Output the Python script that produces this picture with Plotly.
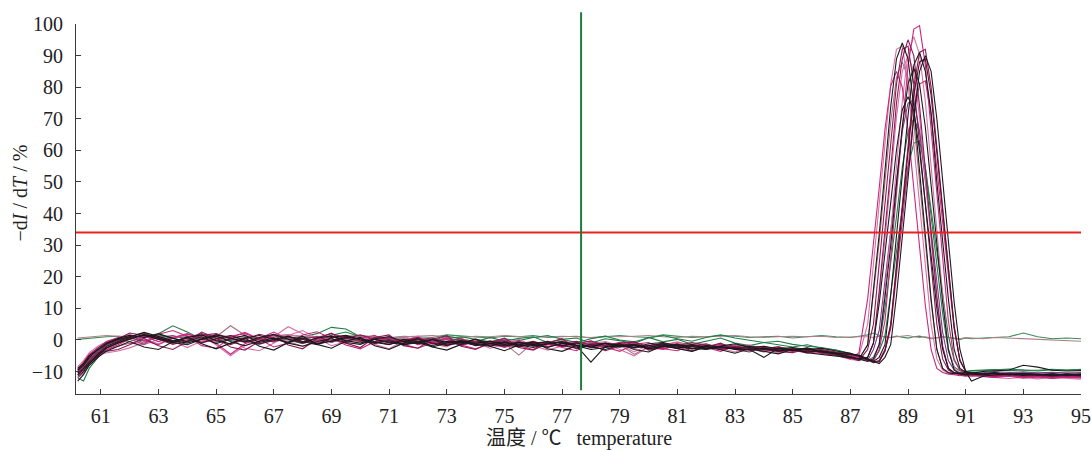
import plotly.graph_objects as go

# ---------------- data ----------------
T_LOW = [60.2, 60.4, 60.6, 60.9, 61.2, 61.6, 62.0, 62.5, 63.0, 63.5,
         64.0, 64.5, 65.0, 65.5, 66.0, 66.5, 67.0, 67.5, 68.0, 68.5,
         69.0, 69.5, 70.0, 70.5, 71.0, 71.5, 72.0, 72.5, 73.0, 73.5,
         74.0, 74.5, 75.0, 75.5, 76.0, 76.5, 77.0, 77.5, 78.0, 78.5,
         79.0, 79.5, 80.0, 80.5, 81.0, 81.5, 82.0, 82.5, 83.0, 83.5,
         84.0, 84.5, 85.0, 85.5, 86.0, 86.5, 87.0, 87.3]
T_MELT = [87.6, 87.8, 88.0, 88.2, 88.4, 88.6, 88.8, 89.0, 89.2, 89.4,
          89.6, 89.8, 90.0, 90.2, 90.4, 90.6, 90.8, 91.0, 91.2]
T_TAIL = [91.6, 92.0, 92.5, 93.0, 93.5, 94.0, 94.5, 95.0]

X_TICKS = [61, 63, 65, 67, 69, 71, 73, 75, 77, 79, 81, 83, 85, 87, 89, 91, 93, 95]
Y_TICKS = [-10, 0, 10, 20, 30, 40, 50, 60, 70, 80, 90, 100]
THRESHOLD = 34
CURSOR_T = 77.66

# --- curve A (black) ---
a_low = [-9.5, -8, -5.5, -3, -1, 0.5, 1.5, 0.8, 2.0, 0.5,
         -0.5, 1.0, -1.2, 0.3, 1.5, -0.8, 0.2, 1.2, -0.5, -1.5,
         0.8, 1.5, 0.0, -0.8, -1.5, 0.2, -0.6, -1.8, -0.4, -1.0,
         0.3, -1.2, -2.0, -0.8, -1.4, -0.5, -1.8, -0.9, -2.2, -1.0,
         -1.6, -2.4, -1.2, -0.8, -2.0, -1.5, -2.6, -1.8, -1.2, -2.3,
         -2.0, -2.8, -2.4, -3.0, -2.6, -3.5, -4.2, -5.0]
a_melt = [-6.0, -6.8, -5.5, -1.5, 14, 33, 52, 71, 87, 91,
          85, 72, 50, 31, 13, -3, -9, -10.2, -10.5]
a_tail = [-10.8, -10.4, -11.0, -10.6, -10.9, -11.2, -10.7, -11.0]

# --- curve B (dark magenta) ---
b_low = [-11, -9, -6.5, -4, -1.5, 0, 1.0, 2.2, 0.5, -1.0,
         0.8, 2.0, 0.5, -1.5, 0.2, 1.8, 0.6, -0.8, 0.4, 1.0,
         -0.6, 0.5, 1.6, 0.2, -1.0, -0.2, 0.8, -1.2, -0.5, 0.4,
         -1.5, -0.8, -0.2, -1.6, -0.6, -1.2, -2.0, -1.1, -0.3, -1.8,
         -1.0, -0.6, -2.2, -1.4, -1.8, -0.8, -1.6, -2.4, -1.5, -2.0,
         -2.8, -2.2, -3.2, -2.5, -3.4, -4.0, -5.2, -6.5]
b_melt = [-5.5, -1, 15.5, 34, 54, 75, 89, 95, 90, 74,
          54, 33, 14, -2, -9, -10.5, -10.8, -11, -10.6]
b_tail = [-10.9, -11.3, -10.8, -11.2, -11.0, -11.4, -11.1, -11.3]

# --- curve C (magenta) ---
c_low = [-10, -8.5, -6.8, -4.5, -2.5, -1.0, 0.5, 1.2, -0.5, 0.8,
         2.0, 0.4, -1.0, -4.5, -1.2, 0.5, 2.5, 0.2, -1.0, -0.2,
         1.2, -0.4, 0.6, 1.5, -0.8, 0.3, -1.5, -0.6, 0.2, -1.8,
         -0.5, -1.0, -2.4, -1.2, -0.4, -2.0, -1.4, -0.8, -2.5, -1.6,
         -0.8, -1.8, -2.6, -1.0, -1.5, -2.8, -2.0, -1.4, -2.6, -3.0,
         -2.2, -3.0, -2.6, -3.6, -3.0, -4.2, -4.8, -5.5]
c_melt = [-6.5, -6.5, -3, 6, 26, 46, 67.5, 86.7, 98.4, 99.5,
          87, 67, 46, 26, 6, -6, -9.5, -10.5, -11]
c_tail = [-11.5, -11.8, -11.4, -11.9, -11.6, -12.0, -11.7, -11.9]

# --- curve D (pink) ---
d_low = [-8.5, -6.5, -4.0, -2.0, -0.5, 0.5, 1.8, 0.4, -1.2, 0.6,
         1.5, -0.5, 0.8, 1.0, 1.0, -0.6, 1.4, 1.6, 1.2, -0.4,
         0.5, -1.2, 0.8, 0.2, -0.6, 1.0, -0.2, -1.4, 0.4, -0.8,
         -1.6, -0.2, -1.0, -2.2, -0.8, -1.5, -0.6, -2.6, -1.2, -0.5,
         -1.8, -1.0, -2.8, -1.6, -0.8, -2.2, -1.5, -2.0, -2.8, -2.2,
         -3.0, -2.4, -3.4, -3.0, -3.8, -4.6, -6.0, -5.0]
d_melt = [5, 24, 43, 63, 81, 92, 93, 81, 63, 43,
          24, 5, -6, -9.5, -10.5, -10.8, -11, -10.7, -11.2]
d_tail = [-11.0, -11.5, -11.2, -11.6, -11.3, -11.8, -11.5, -11.7]

# --- curve E (black) ---
e_low = [-10.5, -9, -7, -4.5, -2, -0.5, 0.8, 1.5, 0.2, -0.8,
         -1.5, 0.2, 1.2, -0.5, -1.8, -0.4, 0.6, -1.0, -2.0, -0.5,
         0.4, -0.8, -1.4, 0.2, -0.6, -1.6, -0.8, -2.2, -1.0, -0.4,
         -1.8, -1.2, -0.6, -2.0, -1.4, -2.4, -1.0, -1.8, -7.0, -2.0,
         -2.2, -1.6, -2.8, -2.0, -1.4, -2.6, -3.0, -2.2, -2.8, -3.2,
         -2.6, -3.4, -3.0, -3.8, -3.4, -4.4, -5.2, -6.0]
e_melt = [-5.5, -1, 11.5, 26.6, 43.4, 60.2, 72.8, 77, 72.5, 60,
          43, 26, 10, -3, -9, -10.3, -10.6, -10.2, -10.5]
e_tail = [-10.0, -9.8, -9.5, -8.0, -8.6, -9.6, -9.8, -9.7]

# --- curve F (green) ---
f_low = [-12, -13, -9, -5.5, -2.5, 0, 1.0, -1.0, 2.0, 4.5,
         2.5, 0.2, -0.8, 0.6, 1.2, -0.4, 0.8, 0.0, -1.2, 0.4,
         1.5, 2.5, 1.0, -0.5, 0.6, -0.8, 0.5, -0.2, 1.2, 0.4,
         -0.6, 0.8, -0.4, 0.5, 1.0, -0.8, 0.2, 0.6, -1.0, 0.4,
         -0.2, -1.2, 0.8, -0.6, 0.2, -1.4, -0.4, 0.6, -1.0, -1.8,
         -0.8, -1.4, -2.2, -1.5, -2.6, -3.2, -4.5, -6.0]
f_melt = [-6.5, -5.5, -1.5, 10, 24, 39, 54.6, 66, 70, 66,
          54.6, 39, 24, 8.5, -3.5, -8.5, -9.8, -10.0, -9.7]
f_tail = [-9.6, -9.4, -9.7, -9.5, -9.8, -9.4, -9.6, -9.3]

# --- curve G (dark magenta) ---
g_low = [-9, -7.5, -5, -2.5, -0.8, 0.4, 2.2, 1.4, 0.2, -1.4,
         -0.2, 1.5, 2.0, 0.4, -0.8, 0.5, 1.6, 0.4, -1.0, 0.8,
         2.0, 0.6, -0.5, 0.8, 0.2, -1.2, 0.0, 0.6, -0.8, -1.6,
         -0.4, -1.0, -1.8, -0.6, -1.2, -2.2, -1.0, -0.4, -1.6, -2.0,
         -1.2, -2.6, -1.8, -1.0, -2.4, -1.8, -1.2, -2.6, -2.0, -2.8,
         -2.4, -3.2, -2.8, -3.6, -3.0, -3.8, -4.4, -5.0]
g_melt = [-6.2, -7, -6.5, -3, 5, 23.7, 42.5, 62.3, 80, 91,
          92, 80, 62, 42, 23, 4, -6.5, -9.8, -10.6]
g_tail = [-10.9, -11.1, -10.7, -11.0, -10.8, -11.2, -10.9, -11.1]

# --- curve H (rosy) ---
h_low = [-10, -8, -6, -4.5, -3.0, -2.0, -1.0, -1.5, 0.2, -1.2,
         0.5, -0.8, 1.0, 4.5, 1.5, -0.2, 0.6, -0.5, -2.0, -0.8,
         1.0, 0.2, -0.6, -1.2, 0.4, 0.8, -0.4, -1.0, 0.6, -0.2,
         -1.2, -0.6, -1.0, -4.8, -0.8, -1.4, -0.2, -1.6, -1.0, -2.0,
         -1.5, -4.5, -2.2, -1.6, -0.6, -1.8, -2.6, -1.4, -2.0, -1.6,
         -2.8, -2.2, -3.0, -2.6, -3.6, -4.4, -5.2, -6.0]
h_melt = [-1.5, 14, 31, 50, 69, 83, 88, 83, 69, 50,
          31, 12, -3, -9, -10.2, -10.5, -10.3, -10.6, -10.4]
h_tail = [-10.5, -10.2, -10.6, -10.4, -10.7, -10.3, -10.5, -10.6]

# --- curve I (purple) ---
i_low = [-10, -8, -5.5, -3.5, -1.5, -0.2, 0.6, -0.4, 0.8, 1.4,
         0.2, -1.0, 0.4, 1.2, -0.2, -1.4, 0.2, 0.8, -0.6, 0.4,
         -0.8, 0.6, 0.0, -1.0, 0.6, -0.4, -1.2, -0.2, 0.4, -1.4,
         -0.8, -1.6, -0.6, -1.2, -2.0, -1.0, -1.6, -2.4, -1.2, -1.8,
         -1.0, -2.2, -1.6, -2.8, -1.4, -2.0, -2.8, -1.8, -2.4, -3.0,
         -2.4, -3.2, -2.6, -3.4, -3.2, -4.0, -5.0, -6.0]
i_melt = [-6.5, -3, 3, 18.7, 34.5, 51, 66, 75, 76, 66,
          51, 34.5, 18.5, 2.5, -6.5, -9.5, -10.4, -10.6, -10.3]
i_tail = [-10.4, -10.0, -10.3, -10.1, -10.4, -10.2, -10.5, -10.3]

# --- curve J (black) ---
j_low = [-11.5, -10, -7.5, -5, -2.5, -0.8, 0.2, 1.8, 0.6, -0.6,
         0.8, 1.6, -0.2, -1.2, 0.6, 1.4, 0.2, -0.8, 0.6, -1.2,
         -0.4, 0.8, 0.4, -1.0, -0.2, -1.4, -0.6, 0.2, -1.6, -0.8,
         -1.4, -2.0, -0.8, -1.6, -2.4, -1.2, -0.6, -1.8, -2.2, -3.0,
         -1.6, -2.4, -1.8, -1.2, -2.6, -2.0, -2.8, -2.2, -3.0, -3.0,
         -5.5, -2.6, -3.2, -2.8, -3.6, -4.2, -4.6, -4.8]
j_melt = [-6, -6.8, -7.5, -5.5, -1.5, 14, 32, 51, 70.6, 85,
          90, 85, 70, 51, 31, 12, -3, -10, -13]
j_tail = [-11.5, -11.0, -10.8, -11.2, -10.9, -11.3, -11.0, -11.2]

# --- curve K (magenta) ---
k_low = [-9.5, -7, -4.5, -2.5, -0.5, 0.8, 1.2, -0.2, -1.5, 0.6,
         1.8, 0.6, -0.4, 1.2, 2.0, 0.4, -0.6, 1.0, 0.2, -1.0,
         0.6, 1.4, -0.2, -1.2, 0.2, -0.6, 0.8, -0.8, -1.4, 0.0,
         -0.6, -1.8, -1.0, -0.4, -2.0, -1.2, -2.2, -0.8, -1.6, -2.4,
         -1.8, -1.2, -2.4, -3.0, -1.6, -2.2, -1.8, -2.8, -2.2, -2.6,
         -3.2, -2.6, -3.6, -3.2, -4.0, -4.8, -6.0, -4.0]
k_melt = [13, 30, 48, 66.6, 80.4, 85, 80, 66.6, 48, 30,
          11, -3, -9, -10.3, -10.8, -11.0, -11.3, -11.0, -11.4]
k_tail = [-11.2, -11.6, -11.3, -11.7, -11.5, -11.8, -11.4, -11.6]

# --- curve L (green) ---
l_low = [-10, -8.5, -6, -3.5, -1.5, 0.2, -0.5, 0.8, 1.6, 0.4,
         -0.6, 0.6, 1.2, -0.2, 0.8, 0.2, -0.6, 0.6, 1.0, 2.0,
         4.0, 3.5, 1.0, 0.2, -0.4, 0.8, 0.2, -0.6, 0.4, 1.0,
         0.2, -0.6, 0.4, -0.2, 0.8, 1.4, 0.2, -0.8, 0.4, 1.2,
         0.0, -0.6, 0.6, 1.4, 0.4, -0.4, 0.8, 1.6, 0.6, -0.2,
         -0.8, -0.4, -1.4, -2.0, -2.4, -3.2, -4.2, -5.5]
l_melt = [-6.5, -6.5, -3.5, 1.4, 14.7, 28, 42, 54.6, 62.3, 63,
          54.6, 42, 28, 14.7, 1.4, -6.5, -9.5, -10, -9.8]
l_tail = [-9.7, -9.5, -9.2, -9.5, -9.6, -9.3, -9.5, -9.4]

# --- curve M (maroon) ---
m_low = [-11, -9.5, -7.5, -5, -2.5, -1.0, 0.4, 1.6, 0.8, -0.4,
         0.6, -0.8, 0.4, 1.4, 0.0, -1.2, -0.2, 1.0, 0.2, -1.4,
         -0.2, 1.2, 0.4, -0.6, -1.4, -0.4, 0.4, -1.0, -1.8, -0.6,
         -1.2, -0.4, -1.6, -2.2, -1.0, -0.6, -1.8, -2.6, -1.4, -1.0,
         -2.2, -1.6, -2.8, -2.0, -2.6, -1.4, -2.2, -3.0, -2.4, -2.0,
         -3.0, -3.6, -2.8, -3.4, -3.8, -4.2, -4.6, -5.2]
m_melt = [-6.5, -7.2, -6.8, -3.5, 4.5, 22.8, 41, 60, 77.5, 88,
          89, 77.5, 60, 41, 22.8, 4.5, -6.5, -9.8, -10.8]
m_tail = [-11.0, -10.7, -11.1, -10.8, -11.2, -10.9, -11.3, -11.0]

# --- curve N (pink) ---
n_low = [-10.5, -9, -6.5, -4, -2, -0.5, 0.6, 1.6, 0.2, -0.8,
         0.4, 1.2, -1.5, -5.0, -1.8, 0.4, 1.0, 4.2, 2.0, 0.2,
         -0.6, 0.4, 1.4, 0.6, -0.4, -1.2, 0.2, 0.8, -0.6, -1.2,
         -0.2, -1.4, -2.2, -0.6, -1.6, -0.8, -2.0, -1.2, -0.4, -2.2,
         -1.4, -3.8, -1.6, -2.4, -1.0, -2.0, -2.6, -1.6, -2.4, -3.0,
         -2.2, -2.8, -3.6, -3.0, -3.4, -4.2, -5.0, -6.0]
n_melt = [-6.5, -5.8, -1.5, 15.7, 34, 55, 75.5, 90.5, 96, 90.5,
          75.5, 55, 34, 14.5, -2.5, -9, -10.4, -10.8, -11]
n_tail = [-11.2, -11.5, -11.0, -11.4, -11.7, -11.3, -11.6, -11.4]

# --- curve O (black) ---
o_low = [-9, -7.5, -5, -3, -1.2, 0.2, 1.0, 2.4, 1.2, -0.2,
         -1.0, 0.4, 1.6, 0.6, -0.6, 0.8, 1.8, 0.2, -0.8, 0.6,
         1.2, -0.2, -1.0, 0.4, 1.0, -0.4, -1.2, 0.2, -0.8, -0.2,
         -1.0, -0.4, -1.4, -0.8, -1.8, -1.2, -0.6, -1.6, -2.0, -1.2,
         -1.8, -1.4, -2.4, -1.6, -2.0, -2.8, -1.8, -2.2, -2.8, -2.4,
         -3.0, -2.8, -3.4, -2.6, -3.8, -4.4, -5.4, -6.0]
o_melt = [-1.5, 15, 33.4, 53.6, 73.8, 89, 94, 89, 73.8, 53.6,
          33.4, 13, -3, -9, -10.4, -10.7, -10.4, -10.8, -10.6]
o_tail = [-10.8, -10.5, -10.9, -10.6, -11.0, -10.7, -11.1, -10.8]

# --- curve P (dark magenta) ---
p_low = [-10, -8, -6, -4, -3.5, -3.0, -1.5, 0.5, -1.8, -3.0,
         -0.5, 2.5, 0.6, -2.2, -3.2, -0.4, 1.8, -1.6, -2.8, 0.4,
         2.2, -1.0, -2.4, 0.8, 1.6, -1.8, -2.6, 0.2, 1.4, -2.0,
         -3.0, -0.8, 0.6, -2.4, -3.2, -1.0, 0.4, -2.8, -1.6, -3.4,
         -2.0, -0.6, -3.2, -2.4, -1.2, -3.6, -2.2, -1.0, -3.0, -3.8,
         -2.2, -3.6, -4.0, -2.8, -4.2, -4.8, -5.8, -6.5]
p_melt = [-3, 5, 24, 43, 63, 81, 92, 93, 81, 63,
          43, 24, 5, -6, -9.5, -10.5, -10.9, -11.2, -11.0]
p_tail = [-11.1, -11.4, -11.0, -11.5, -11.2, -11.6, -11.3, -11.5]

# --- curve S (magenta) ---
s_low = [-12, -10.5, -8, -5.5, -3, -1.5, 0.2, -1.4, 1.8, 3.0,
         1.2, -1.8, -2.6, 0.8, 2.4, 0.2, -2.2, -1.0, 1.6, 2.6,
         0.4, -1.6, -2.8, -0.6, 1.2, -1.4, -2.6, -0.8, 0.8, -1.6,
         -2.8, -1.2, 0.4, -1.8, -3.0, -0.4, -2.4, -3.4, -1.0, -2.2,
         -3.6, -1.4, -0.8, -2.8, -3.4, -1.6, -2.4, -3.6, -2.0, -2.8,
         -3.8, -2.6, -3.2, -4.2, -3.4, -4.4, -5.0, -5.5]
s_melt = [-6, -6.8, -7, -3.5, 3.7, 20.6, 37.5, 55.3, 71.3, 81,
          82, 71, 55, 37.5, 20.5, 3.5, -6.5, -10, -11]
s_tail = [-11.4, -11.9, -11.5, -12.1, -11.7, -12.2, -11.8, -12.0]

# --- curve U (black) ---
u_low = [-13, -11, -8, -5.5, -3.5, -2.0, -0.5, -2.2, -3.0, -0.6,
         1.0, -1.2, -2.8, -1.0, 0.6, -2.0, -3.2, -0.8, 1.2, -1.4,
         -2.6, -0.4, 0.8, -1.8, -3.0, -1.0, 0.4, -2.2, -3.2, -1.4,
         0.2, -2.0, -3.4, -1.6, -0.6, -2.8, -3.6, -1.8, -3.0, -2.4,
         -1.2, -3.0, -3.8, -1.8, -2.6, -3.6, -2.0, -3.2, -4.2, -2.8,
         -3.6, -4.4, -3.0, -4.0, -4.6, -5.0, -5.6, -6.0]
u_melt = [-6.8, -6, -1.5, 13.5, 30, 49.4, 67.4, 81, 86, 81,
          67.4, 49, 30, 12, -3, -9.5, -10.8, -11, -10.6]
u_tail = [-10.8, -10.5, -10.9, -10.6, -11.0, -10.7, -11.0, -10.9]

# --- curve V (pink) ---
v_low = [-9, -7, -5, -4.5, -4.0, -3.5, -2.5, -0.8, 1.2, -0.4,
         -2.4, -0.2, 1.8, 0.4, -2.6, -3.4, -1.0, 1.4, 3.0, 0.6,
         -1.8, -0.6, 1.0, -1.4, -2.8, -0.2, 1.2, -1.2, -2.2, 0.4,
         -0.8, -2.6, -1.4, 0.2, -1.8, -3.2, -2.0, -0.6, -2.4, -1.2,
         -3.0, -5.0, -2.2, -1.2, -2.8, -3.4, -1.8, -2.6, -3.8, -2.4,
         -3.2, -4.0, -2.8, -3.6, -4.4, -4.8, -6.2, -6.5]
v_melt = [-5.5, -1, 14.3, 31.8, 51.2, 70.6, 85, 90, 85, 70.6,
          51, 32, 12.4, -2, -9, -10.6, -11.2, -11.6, -11.4]
v_tail = [-11.6, -11.9, -12.2, -11.8, -12.3, -11.9, -12.1, -12.4]

# --- flat curve Q (green, no product) ---
q_low = [0.2, 0.4, 0.6, 0.8, 1.0, 1.2, 1.0, 1.4, 1.2, 0.8,
         1.0, 1.4, 0.8, 1.2, 1.0, 0.6, 1.2, 1.6, 1.0, 0.8,
         1.2, 0.8, 1.4, 1.0, 0.6, 1.2, 1.0, 0.8, 1.6, 1.2,
         1.0, 0.6, 1.2, 1.0, 1.4, 0.8, 1.0, 1.2, 0.6, 1.0,
         1.4, 1.0, 0.8, 1.6, 1.2, 0.8, 1.0, 1.4, 1.2, 0.8,
         1.0, 1.2, 0.6, 1.0, 1.4, 1.0, 0.8, 1.2]
q_melt = [1.6, 2.2, 1.4, 1.0, 0.8, 1.2, 1.0, 0.6, 1.0, 1.2,
          0.8, 0.4, 0.6, 1.0, 0.8, 0.4, 0.2, 0.6, 0.4]
q_tail = [0.6, 0.8, 1.0, 2.2, 1.0, 0.4, 0.6, 0.4]

# --- flat curve R (rosy, no product) ---
r_low = [0.6, 0.8, 1.0, 1.2, 1.4, 1.2, 1.0, 1.2, 1.4, 1.0,
         1.2, 1.0, 1.4, 1.2, 1.0, 0.8, 1.2, 1.0, 0.8, 1.2,
         1.0, 1.4, 1.2, 1.0, 0.8, 1.0, 1.2, 1.4, 1.0, 0.8,
         1.2, 1.0, 1.4, 1.2, 0.8, 1.0, 1.2, 1.0, 0.8, 1.2,
         1.0, 1.2, 1.4, 1.0, 0.8, 1.2, 1.0, 1.2, 1.4, 1.0,
         0.8, 1.0, 1.2, 1.0, 1.2, 0.8, 1.0, 1.0]
r_melt = [1.0, 0.8, 1.2, 1.0, 0.8, 1.0, 1.2, 1.4, 1.0, 0.8,
          1.0, 0.6, 0.8, 1.0, 0.8, 0.6, 0.4, 0.8, 0.6]
r_tail = [0.4, 0.8, 0.6, 0.4, 0.2, 0.0, -0.2, -0.4]

BLACK = "#1a1a1a"
DMAG = "#8B1A55"
MAG = "#C8287E"
PINK = "#D870A8"
GREEN = "#1F7F45"
ROSY = "#A87080"
PURPLE = "#7B3B92"
MAROON = "#5C1033"

curves = [
    (q_low, q_melt, q_tail, "#3C8C5C"),
    (r_low, r_melt, r_tail, "#B08088"),
    (f_low, f_melt, f_tail, GREEN),
    (l_low, l_melt, l_tail, GREEN),
    (h_low, h_melt, h_tail, ROSY),
    (i_low, i_melt, i_tail, PURPLE),
    (d_low, d_melt, d_tail, PINK),
    (v_low, v_melt, v_tail, PINK),
    (n_low, n_melt, n_tail, PINK),
    (k_low, k_melt, k_tail, MAG),
    (s_low, s_melt, s_tail, MAG),
    (c_low, c_melt, c_tail, MAG),
    (b_low, b_melt, b_tail, DMAG),
    (p_low, p_melt, p_tail, DMAG),
    (g_low, g_melt, g_tail, DMAG),
    (m_low, m_melt, m_tail, MAROON),
    (a_low, a_melt, a_tail, BLACK),
    (u_low, u_melt, u_tail, BLACK),
    (e_low, e_melt, e_tail, BLACK),
    (j_low, j_melt, j_tail, BLACK),
    (o_low, o_melt, o_tail, BLACK),
]

temps = T_LOW + T_MELT + T_TAIL

fig = go.Figure()
for lo, me, ta, col in curves:
    ys = lo + me + ta
    if len(ys) != len(temps):
        raise ValueError(f"length mismatch {len(lo)} {len(me)} {len(ta)}")
    fig.add_trace(go.Scatter(x=temps, y=ys, mode="lines",
                             line=dict(color=col, width=1.1),
                             showlegend=False, hoverinfo="skip"))

FONT = "Liberation Serif, Noto Sans CJK SC, serif"
AX = "#3a3a3a"

Y_MIN, Y_MAX = -17.1, 100
fig.update_layout(
    width=1091, height=451,
    margin=dict(l=76, r=10, t=24, b=57, autoexpand=False),
    paper_bgcolor="white", plot_bgcolor="white",
    font=dict(family=FONT, size=20, color="#222"),
    xaxis=dict(range=[60.14, 95.0], tickvals=X_TICKS, ticks="inside", ticklen=5,
               tickcolor=AX, showline=True, linecolor=AX, linewidth=1,
               showgrid=False, zeroline=False, ticklabelstandoff=4,
               automargin=False,
               tickfont=dict(family=FONT, size=20, color="#222")),
    yaxis=dict(range=[Y_MIN, Y_MAX], tickvals=Y_TICKS, ticks="inside", ticklen=5,
               tickcolor=AX, showline=True, linecolor=AX, linewidth=1,
               showgrid=False, zeroline=False, ticklabelstandoff=8,
               automargin=False,
               tickfont=dict(family=FONT, size=20, color="#222")),
    shapes=[
        dict(type="line", xref="paper", yref="y", x0=0, x1=1,
             y0=THRESHOLD, y1=THRESHOLD, line=dict(color="#E8231F", width=2),
             layer="above"),
        dict(type="line", xref="x", yref="paper", x0=CURSOR_T, x1=CURSOR_T,
             y0=0.01, y1=1.032, line=dict(color="#1E7B3C", width=2),
             layer="above"),
    ],
    annotations=[
        dict(text="温度 / ℃   temperature", xref="paper", yref="paper",
             x=0.5, y=-0.119, xanchor="center", yanchor="middle",
             showarrow=False, font=dict(family=FONT, size=20, color="#222")),
        dict(text="−d<i>I</i> / d<i>T</i> / %", xref="paper", yref="paper",
             x=-0.0557, y=0.542, xanchor="center", yanchor="middle",
             textangle=-90, showarrow=False,
             font=dict(family=FONT, size=20, color="#222")),
    ],
)

fig.write_html("out.html", config={"displayModeBar": False},
               post_script="document.body.style.margin='0';document.body.style.padding='0';")
